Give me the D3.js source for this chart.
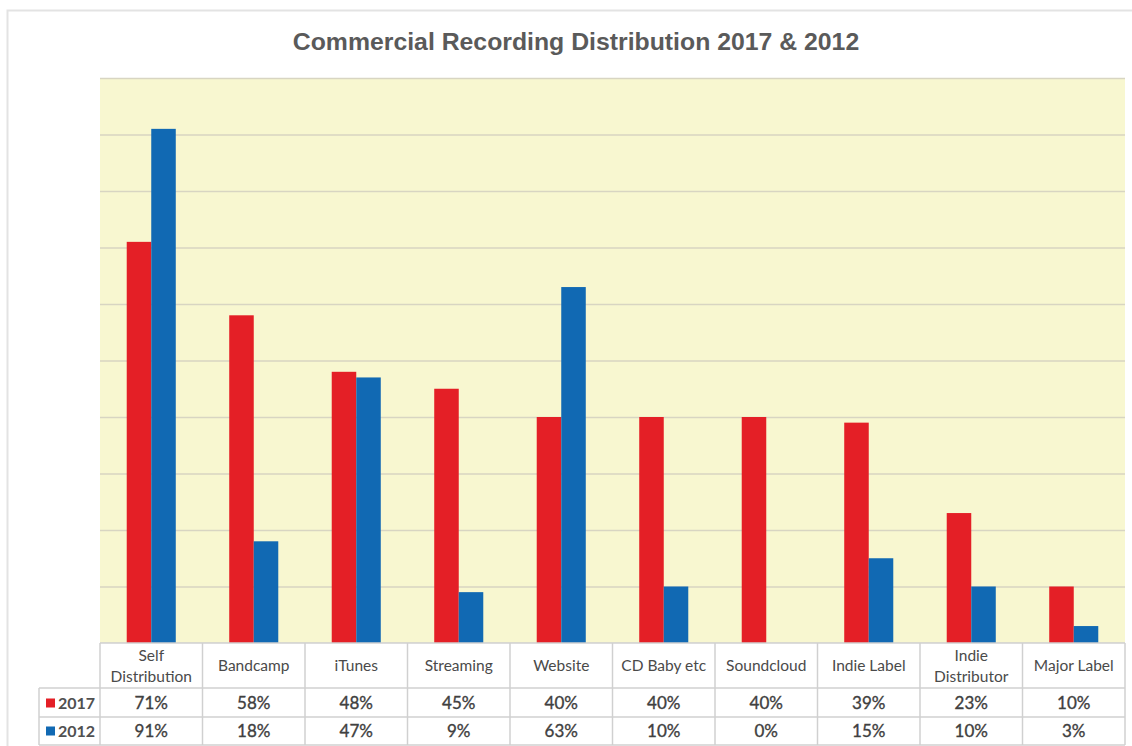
<!DOCTYPE html>
<html><head><meta charset="utf-8">
<script src="https://cdn.jsdelivr.net/npm/d3@7"></script>
<style>body{margin:0;background:#fff}svg{display:block}</style>
</head><body>
<svg id="c" width="1132" height="746"></svg>
<script>
const categories = ["Self Distribution","Bandcamp","iTunes","Streaming","Website","CD Baby etc","Soundcloud","Indie Label","Indie Distributor","Major Label"];
const labelLines = [["Self","Distribution"],["Bandcamp"],["iTunes"],["Streaming"],["Website"],["CD Baby etc"],["Soundcloud"],["Indie Label"],["Indie","Distributor"],["Major Label"]];
const series = ["2017","2012"];
const values2017 = [71,58,48,45,40,40,40,39,23,10];
const values2012 = [91,18,47,9,63,10,0,15,10,3];
const yTicks = [0,10,20,30,40,50,60,70,80,90,100];
const title = "Commercial Recording Distribution 2017 & 2012";

(function(){
const colors = {"2017":"#e41f26","2012":"#1169b3"};
const svg = d3.select("#c");
const pL = 100, pR = 1125, pT = 78, pB = 643;

// outer border
svg.append("rect").attr("x",7.5).attr("y",10.5).attr("width",1140).attr("height",750)
  .attr("fill","none").attr("stroke","#e3e3e3").attr("stroke-width",2);

svg.append("text").attr("x",576).attr("y",49.5).attr("text-anchor","middle")
  .attr("font-family","Liberation Sans, Arial, sans-serif").attr("font-size",24.8).attr("font-weight","bold")
  .attr("fill","#5a5a5a").text(title);

const x = d3.scaleBand().domain(categories).range([pL,pR]).paddingInner(0).paddingOuter(0);
const x1 = d3.scaleBand().domain(series).range([0,x.bandwidth()]).paddingInner(0).paddingOuter(1.09);
const y = d3.scaleLinear().domain([0,100]).range([pB,pT]);

svg.append("rect").attr("x",pL).attr("y",pT).attr("width",pR-pL).attr("height",pB-pT).attr("fill","#f8f7d0");

const yAxis = d3.axisLeft(y).tickValues(yTicks).tickSize(-(pR-pL)).tickFormat("");
const ga = svg.append("g").attr("transform",`translate(${pL},0)`).call(yAxis);
ga.select(".domain").remove();
ga.selectAll(".tick line").attr("stroke","#d8d5c2").attr("stroke-width",1.5);

const data = {"2017":values2017,"2012":values2012};
const groups = svg.append("g");
series.forEach(s=>{
  groups.selectAll(null).data(categories).enter().append("rect")
    .attr("x",d=>x(d)+x1(s))
    .attr("width",x1.bandwidth())
    .attr("y",(d,i)=>y(data[s][i]))
    .attr("height",(d,i)=>pB-y(data[s][i]))
    .attr("fill",colors[s]);
});

// data table
const tg = svg.append("g");
const legLeft = 39;
const lineColor = "#d0d0d0";
tg.append("rect").attr("x",pL).attr("y",643).attr("width",pR-pL).attr("height",745-643).attr("fill","#fff");
tg.append("line").attr("x1",pL).attr("x2",pR).attr("y1",643).attr("y2",643).attr("stroke",lineColor).attr("stroke-width",1.5);
[688,717,745].forEach(yy=>tg.append("line").attr("x1",legLeft).attr("x2",pR).attr("y1",yy).attr("y2",yy).attr("stroke",lineColor).attr("stroke-width",1.5));
categories.forEach(c=>tg.append("line").attr("x1",x(c)).attr("x2",x(c)).attr("y1",643).attr("y2",745).attr("stroke",lineColor).attr("stroke-width",1.5));
tg.append("line").attr("x1",pR).attr("x2",pR).attr("y1",643).attr("y2",745).attr("stroke",lineColor).attr("stroke-width",1.5);
tg.append("line").attr("x1",legLeft).attr("x2",legLeft).attr("y1",688).attr("y2",745).attr("stroke",lineColor).attr("stroke-width",1.5);

const font = "Lato, 'Open Sans', sans-serif";
categories.forEach((c,i)=>{
  const lines = labelLines[i];
  const cx = x(c)+x.bandwidth()/2;
  lines.forEach((ln,j)=>{
    const cy = lines.length===1 ? 666 : 656 + j*21;
    tg.append("text").attr("x",cx).attr("y",cy).attr("dy","0.35em").attr("text-anchor","middle")
      .attr("font-family",font).attr("font-size",15.5).attr("fill","#4a4a4a").text(ln);
  });
});
const rowCenters = {"2017":703,"2012":731};
series.forEach(s=>{
  tg.append("rect").attr("x",46).attr("y",rowCenters[s]-4.5).attr("width",9).attr("height",9).attr("fill",colors[s]);
  tg.append("text").attr("x",58).attr("y",rowCenters[s]).attr("dy","0.35em")
    .attr("font-family",font).attr("font-size",16).attr("font-weight","bold").attr("fill","#505050").text(s);
  categories.forEach((c,i)=>{
    tg.append("text").attr("x",x(c)+x.bandwidth()/2).attr("y",rowCenters[s]).attr("dy","0.37em").attr("text-anchor","middle")
      .attr("font-family",font).attr("font-size",17).attr("fill","#404040")
      .attr("stroke","#404040").attr("stroke-width",0.35).text(data[s][i]+"%");
  });
});
})();
</script>
</body></html>
